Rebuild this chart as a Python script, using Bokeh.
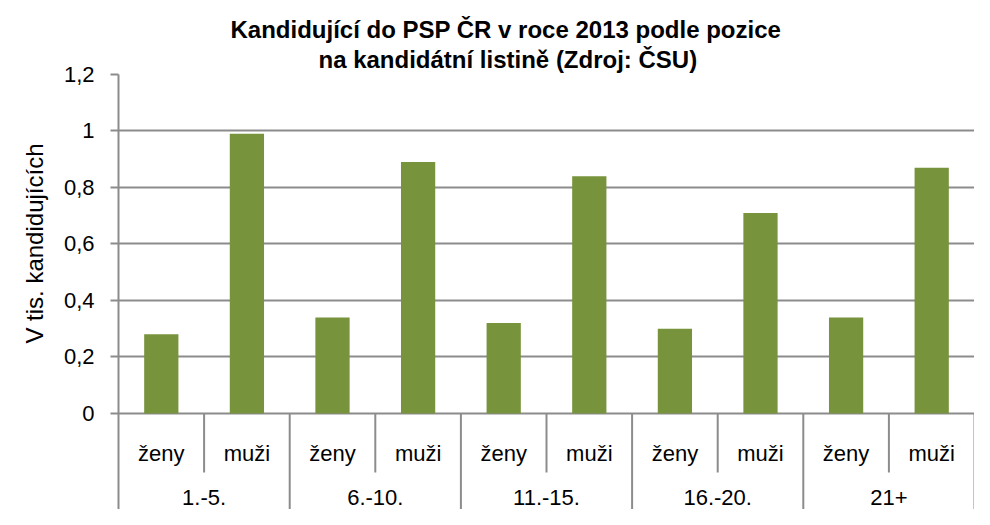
from bokeh.plotting import figure
from bokeh.models import Range1d, FixedTicker, CustomJSTickFormatter, Title, ColumnDataSource
from bokeh.core.properties import value
from bokeh.embed import file_html
from bokeh.resources import INLINE

# data
groups = ["1.-5.", "6.-10.", "11.-15.", "16.-20.", "21+"]
sexes = ["ženy", "muži"]
zeny = [0.28, 0.34, 0.32, 0.30, 0.34]
muzi = [0.99, 0.89, 0.84, 0.71, 0.87]
y_ticks = [0, 0.2, 0.4, 0.6, 0.8, 1, 1.2]
title_lines = ["Kandidující do PSP ČR v roce 2013 podle pozice",
               "na kandidátní listině (Zdroj: ČSU)"]
y_label = "V tis. kandidujících"

FONT = "Liberation Sans"
GREEN = "#77933C"
GRAY = "#8c8c8c"

n_sub = len(sexes)
n = len(groups) * n_sub
xs, vals, sublabels = [], [], []
for gi, g in enumerate(groups):
    for si, s in enumerate(sexes):
        xs.append(gi * n_sub + si + 0.5)
        vals.append(zeny[gi] if si == 0 else muzi[gi])
        sublabels.append(s)

y_top = 1.2
y_bottom = -0.34

p = figure(width=974, height=509, output_backend="svg", toolbar_location=None,
           x_range=Range1d(0, n), y_range=Range1d(y_bottom, y_top),
           x_axis_location=None,
           min_border_left=118, min_border_right=0, min_border_bottom=0,
           min_border_top=74)
p.outline_line_color = None
p.background_fill_color = "white"
p.border_fill_color = "white"

# titles
p.add_layout(Title(text=title_lines[1], align="left", offset=200, text_font=FONT,
                   text_font_size="24px", text_font_style="bold",
                   text_color="black", standoff=3), "above")
p.add_layout(Title(text=title_lines[0], align="left", offset=112, text_font=FONT,
                   text_font_size="24px", text_font_style="bold",
                   text_color="black", standoff=0), "above")

# axes
p.xgrid.visible = False
yax = p.yaxis[0]
yax.ticker = FixedTicker(ticks=y_ticks)
yax.formatter = CustomJSTickFormatter(
    code="var s = (Math.round(tick*10)/10).toString(); return s.replace('.', ',');")
yax.major_label_text_font = FONT
yax.major_label_text_font_size = "22px"
yax.major_label_text_color = "black"
yax.major_label_standoff = 16
yax.axis_line_color = GRAY
yax.axis_line_width = 2
yax.major_tick_line_color = GRAY
yax.major_tick_line_width = 2
yax.major_tick_out = 8
yax.major_tick_in = 0
yax.minor_tick_line_color = None
p.ygrid.grid_line_color = GRAY
p.ygrid.grid_line_width = 2
p.ygrid.ticker = FixedTicker(ticks=y_ticks)

# y axis title (placed as a side title so it can sit beside the value range)
p.add_layout(Title(text=y_label, align="right", offset=69, vertical_align="top",
                   text_font=FONT, text_font_size="24px", text_font_style="normal",
                   text_color="black", standoff=22), "left")

# bars
src = ColumnDataSource(dict(x=xs, top=vals))
p.vbar(x="x", top="top", bottom=0, width=0.4, source=src,
       fill_color=GREEN, line_color=None)

# category separators
sub_x = [i for i in range(1, n) if i % n_sub != 0]
grp_x = [i for i in range(n_sub, n + 1, n_sub)]
sub_depth = -0.209
p.segment(x0=sub_x, y0=[0] * len(sub_x), x1=sub_x, y1=[sub_depth] * len(sub_x),
          line_color=GRAY, line_width=2)
p.segment(x0=grp_x, y0=[0] * len(grp_x), x1=grp_x, y1=[y_bottom] * len(grp_x),
          line_color=GRAY, line_width=2)

# category labels
p.text(x=xs, y=[-0.143] * n, text=sublabels, text_font=value(FONT),
       text_font_size="22px", text_align="center", text_baseline="middle",
       text_color="black")
gx = [gi * n_sub + n_sub / 2 for gi in range(len(groups))]
p.text(x=gx, y=[-0.298] * len(groups), text=groups, text_font=value(FONT),
       text_font_size="22px", text_align="center", text_baseline="middle",
       text_color="black")

open("out.html", "w").write(file_html(p, INLINE))
